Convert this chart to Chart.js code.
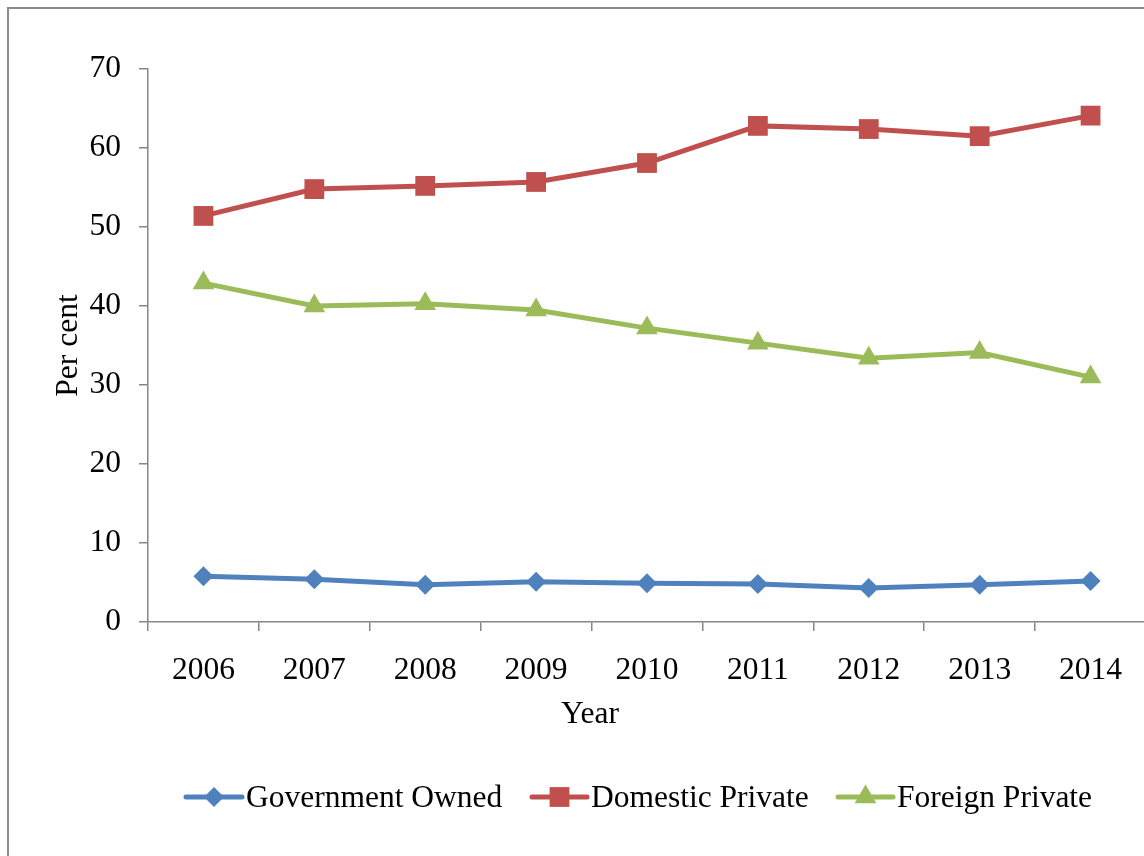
<!DOCTYPE html>
<html>
<head>
<meta charset="utf-8">
<script src="https://cdn.jsdelivr.net/npm/chart.js@4.4.1/dist/chart.umd.min.js"></script>
<style>
  html, body { margin: 0; padding: 0; background: #fff; overflow: hidden; }
  #wrap { position: relative; width: 1144px; height: 856px; overflow: hidden; }
  #frame { position: absolute; left: 7px; top: 7px; width: 1200px; height: 900px;
           border-left: 2px solid #8c8c8c; border-top: 2px solid #8c8c8c; }
  #c { position: absolute; left: 0; top: 0; }
</style>
</head>
<body>
<div id="wrap">
  <div id="frame"></div>
  <canvas id="c" width="1160" height="856"></canvas>
</div>
<script>
const years = ['2006', '2007', '2008', '2009', '2010', '2011', '2012', '2013', '2014'];
const governmentOwned = [5.8, 5.4, 4.7, 5.1, 4.9, 4.8, 4.3, 4.7, 5.2];
const domesticPrivate = [51.4, 54.8, 55.2, 55.7, 58.1, 62.8, 62.4, 61.5, 64.1];
const foreignPrivate = [42.9, 40.0, 40.3, 39.5, 37.2, 35.3, 33.4, 34.1, 31.0];

const serif = '"Liberation Serif", "Times New Roman", serif';
const fontSize = 31.5;
const axisGray = '#868686';

// x title and legend (line + marker), placed like the spreadsheet chart
const bottomTexts = {
    id: 'bottomTexts',
    afterDraw(chart) {
        const ctx = chart.ctx;
        ctx.save();
        ctx.fillStyle = '#000';
        ctx.font = fontSize + 'px ' + serif;
        ctx.textBaseline = 'middle';
        ctx.textAlign = 'center';
        ctx.fillText('Year', 590, 715);

        const items = [
            { x: 186, textX: 246 },
            { x: 532, textX: 591 },
            { x: 838, textX: 897 }
        ];
        const y = 797;
        chart.data.datasets.forEach(function(ds, i) {
            const it = items[i];
            ctx.strokeStyle = ds.borderColor;
            ctx.lineWidth = 5;
            ctx.lineCap = 'round';
            ctx.beginPath();
            ctx.moveTo(it.x, y);
            ctx.lineTo(it.textX - 4, y);
            ctx.stroke();
            ctx.fillStyle = ds.backgroundColor;
            Chart.helpers.drawPoint(ctx, {
                pointStyle: ds.pointStyle,
                radius: ds.pointRadius,
                rotation: 0,
                borderWidth: 0
            }, (it.x + it.textX - 4) / 2, y);
            ctx.fillStyle = '#000';
            ctx.textAlign = 'left';
            ctx.fillText(ds.label, it.textX, y + 2);
        });
        ctx.restore();
    }
};

new Chart(document.getElementById('c').getContext('2d'), {
    type: 'line',
    data: {
        labels: years,
        datasets: [{
            label: 'Government Owned',
            data: governmentOwned,
            borderColor: '#4F81BD',
            backgroundColor: '#4F81BD',
            borderWidth: 5,
            pointStyle: 'rectRot',
            pointRadius: 10,
            pointBorderWidth: 0
        }, {
            label: 'Domestic Private',
            data: domesticPrivate,
            borderColor: '#C0504D',
            backgroundColor: '#C0504D',
            borderWidth: 5,
            pointStyle: 'rect',
            pointRadius: 14,
            pointBorderWidth: 0
        }, {
            label: 'Foreign Private',
            data: foreignPrivate,
            borderColor: '#9BBB59',
            backgroundColor: '#9BBB59',
            borderWidth: 5,
            pointStyle: 'triangle',
            pointRadius: 12.5,
            pointBorderWidth: 0
        }]
    },
    options: {
        responsive: false,
        animation: false,
        layout: { padding: { left: 50, top: 69, right: 13, bottom: 0 } },
        plugins: {
            legend: { display: false },
            tooltip: { enabled: false }
        },
        scales: {
            x: {
                offset: true,
                grid: { display: true, offset: true, drawOnChartArea: false, tickLength: 9, color: axisGray, lineWidth: 1.5 },
                border: { color: axisGray, width: 1.5 },
                ticks: { color: '#000', font: { family: serif, size: fontSize }, padding: 21 },
                afterFit: function(axis) { axis.height = 234; }
            },
            y: {
                min: 0,
                max: 70,
                ticks: { stepSize: 10, color: '#000', font: { family: serif, size: fontSize }, padding: 18 },
                grid: { display: true, drawOnChartArea: false, tickLength: 9, color: axisGray, lineWidth: 1.5 },
                border: { color: axisGray, width: 1.5 },
                title: { display: true, text: 'Per cent', color: '#000', font: { family: serif, size: fontSize }, padding: 0 },
                afterFit: function(axis) { axis.width = 98; }
            }
        }
    },
    plugins: [bottomTexts]
});
</script>
</body>
</html>
